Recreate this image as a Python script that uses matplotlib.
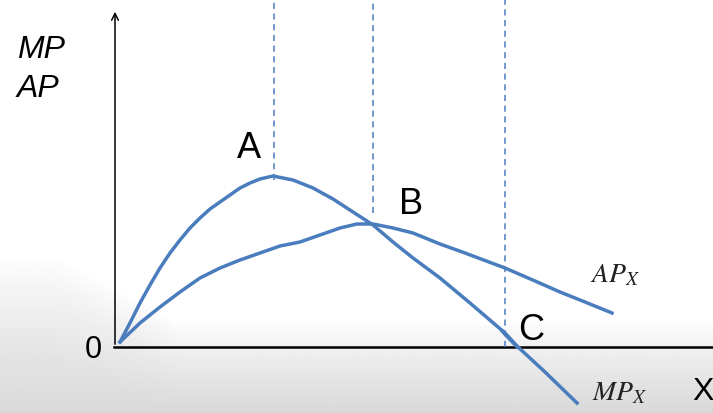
import matplotlib.pyplot as plt
import numpy as np

# curve values (origin at the axes corner)
mp_x = [4, 14, 24, 34, 44, 54, 64, 74, 84, 94, 104, 114, 124, 134, 144, 157,
        177, 197, 217, 237, 257, 277, 297, 324, 354, 389, 402, 429, 461]
mp_y = [5, 24, 44, 62, 79, 94, 107, 119, 129, 138, 145, 152, 159, 164, 168, 171,
        167, 159, 148, 135, 122, 105, 89, 69, 44, 14, 0, -25, -56]

ap_x = [4, 24, 44, 64, 84, 104, 124, 144, 164, 184, 204, 224, 241, 257, 277,
        297, 324, 349, 389, 419, 444, 469, 496]
ap_y = [5, 24, 40, 55, 69, 79, 87, 94, 101, 105, 112, 119, 123, 123, 119,
        114, 103, 94, 79, 66, 55, 45, 34]

guide_x = [158, 257, 389]
guide_bottom = [167, 134, 0]
point_labels = ["A", "B", "C"]

blue = "#4a7dbd"

fig = plt.figure(figsize=(7.13, 4.13), dpi=100)
ax = fig.add_axes([0, 0, 1, 1])
ax.set_xlim(-116, 597)
ax.set_ylim(-66, 347)
ax.axis("off")

# faded grey backdrop towards the bottom
rows = np.linspace(347, -66, 200)[:, None]
cols = np.linspace(-116, 597, 300)[None, :]
start = 25 + 65 * np.clip((60 - cols) / 120, 0, 1)
shade = 1 - 0.15 * np.clip((start - rows) / (start + 66), 0, 1) ** 0.8
ax.imshow(shade, extent=(-116, 597, -66, 347), cmap="gray", vmin=0, vmax=1,
          aspect="auto", zorder=0)

# axes
ax.plot([-2, 597], [0, 0], color="black", lw=1.8, zorder=2)
ax.annotate("", xy=(-1, 338), xytext=(-1, 0),
            arrowprops=dict(arrowstyle="->", lw=1.1, color="black",
                            mutation_scale=12), zorder=2)

# dashed guides
for gx, gb in zip(guide_x, guide_bottom):
    ax.plot([gx, gx], [gb, 347], color=blue, lw=1.1, dashes=(4, 3), zorder=2)

ax.plot(mp_x, mp_y, color=blue, lw=2.5, solid_joinstyle="round", zorder=3)
ax.plot(ap_x, ap_y, color=blue, lw=2.5, solid_joinstyle="round", zorder=3)
ax.plot([386, 401], [16, 0], color=blue, lw=2.5, zorder=3)

font = "Liberation Sans"
ax.text(-99, 289, "MP", fontsize=23, style="italic", family=font, va="baseline")
ax.text(-99, 250, "AP", fontsize=23, style="italic", family=font, va="baseline")
ax.text(-14, -11, "0", fontsize=22, family=font, va="baseline", ha="right")
ax.text(576, -53, "X", fontsize=23, family=font, va="baseline")

label_pos = [(121, 189), (283, 133), (402, 7)]
for lab, (lx, ly) in zip(point_labels, label_pos):
    ax.text(lx, ly, lab, fontsize=26, family=font, va="baseline")

ax.text(474, 65, r"$AP_X$", fontsize=20, math_fontfamily="stix", va="baseline",
        color="#222222")
ax.text(476, -53, r"$MP_X$", fontsize=20, math_fontfamily="stix", va="baseline",
        color="#222222")

fig.savefig("out.png", dpi=100)
